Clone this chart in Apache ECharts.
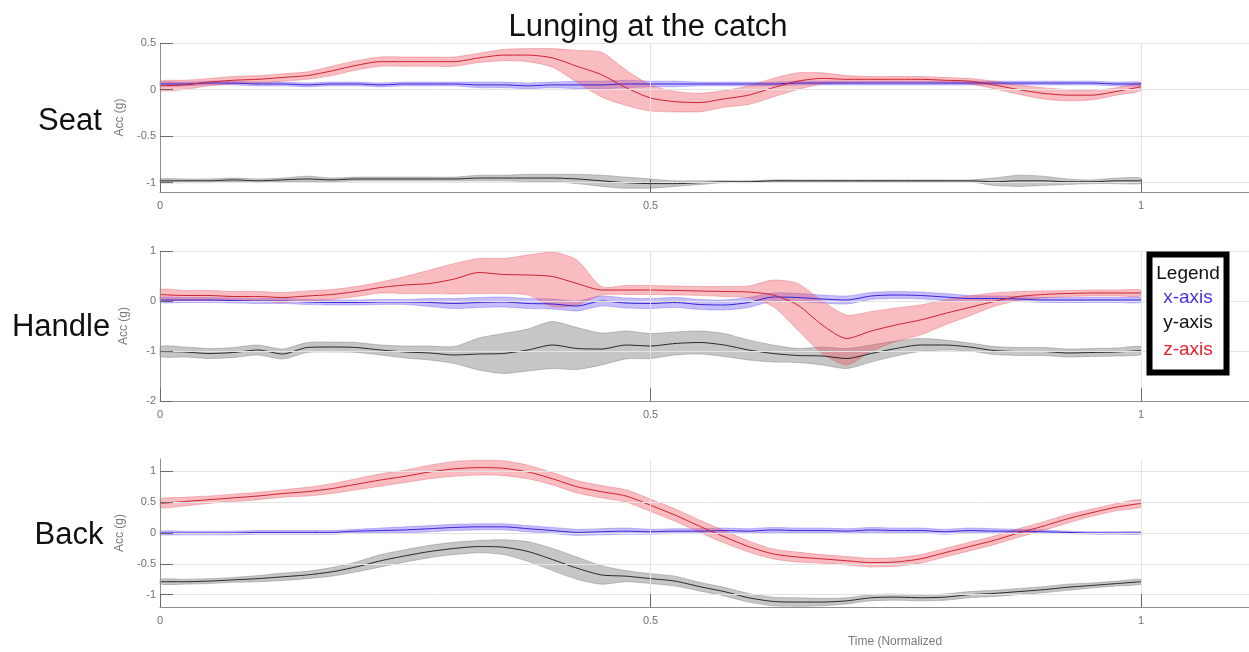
<!DOCTYPE html>
<html><head><meta charset="utf-8">
<script src="https://cdn.jsdelivr.net/npm/echarts@6/dist/echarts.min.js"></script>
<style>html,body{margin:0;padding:0;background:#fff}#c{width:1249px;height:652px}</style>
</head><body><div id="c"></div>
<script>
// Normalized time samples
const t = [0,0.025,0.05,0.075,0.1,0.125,0.15,0.175,0.2,0.225,0.25,0.275,0.3,0.325,0.35,0.375,0.4,0.425,0.45,0.475,0.5,0.525,0.55,0.575,0.6,0.625,0.65,0.675,0.7,0.725,0.75,0.775,0.8,0.825,0.85,0.875,0.9,0.925,0.95,0.975,1];
const xTicks = [0, 0.5, 1];

// Seat
const seatTicks = [-1, -0.5, 0, 0.5];
const seatZ = [0.04,0.05,0.08,0.10,0.11,0.13,0.15,0.20,0.26,0.30, 0.30,0.30,0.30,0.34,0.37,0.37,0.34,0.25,0.16,0.02, -0.09,-0.13,-0.14,-0.10,-0.06,0.02,0.09,0.12,0.11,0.11, 0.11,0.11,0.10,0.09,0.05,0.00,-0.04,-0.06,-0.06,-0.02,0.03];
const seatZSpread = [0.05,0.05,0.04,0.04,0.04,0.04,0.04,0.05,0.05,0.05, 0.05,0.05,0.05,0.05,0.06,0.07,0.10,0.17,0.24,0.19, 0.14,0.11,0.10,0.09,0.10,0.10,0.09,0.06,0.04,0.03, 0.03,0.03,0.03,0.03,0.04,0.05,0.06,0.06,0.05,0.04,0.04];
const seatX = [0.06,0.06,0.07,0.07,0.06,0.06,0.05,0.06,0.06,0.05, 0.06,0.06,0.06,0.05,0.05,0.04,0.05,0.05,0.05,0.06, 0.06,0.06,0.06,0.06,0.06,0.06,0.07,0.07,0.07,0.07, 0.07,0.07,0.07,0.07,0.07,0.07,0.07,0.07,0.07,0.06,0.06];
const seatXSpread = [0.02,0.02,0.02,0.02,0.02,0.02,0.02,0.02,0.02,0.02, 0.02,0.02,0.02,0.03,0.03,0.03,0.03,0.04,0.04,0.04, 0.03,0.03,0.02,0.02,0.02,0.02,0.02,0.02,0.02,0.02, 0.02,0.02,0.02,0.02,0.02,0.02,0.02,0.02,0.02,0.02,0.02];
const seatY = [-0.98,-0.98,-0.98,-0.97,-0.98,-0.97,-0.96,-0.97,-0.96,-0.96, -0.96,-0.96,-0.96,-0.95,-0.95,-0.95,-0.95,-0.96,-0.98,-1.0, -1.01,-1.01,-1.0,-0.99,-0.99,-0.98,-0.98,-0.98,-0.98,-0.98, -0.98,-0.98,-0.98,-0.98,-0.99,-0.98,-0.98,-0.99,-0.99,-0.98,-0.98];
const seatYSpread = [0.02,0.02,0.02,0.02,0.02,0.02,0.03,0.02,0.02,0.02, 0.02,0.02,0.02,0.03,0.03,0.04,0.04,0.05,0.06,0.06, 0.05,0.03,0.02,0.01,0.01,0.01,0.01,0.01,0.01,0.01, 0.01,0.01,0.01,0.01,0.04,0.06,0.05,0.03,0.02,0.03,0.03];

// Handle
const handleTicks = [-2, -1, 0, 1];
const handleZ = [0.13,0.11,0.11,0.09,0.09,0.07,0.10,0.13,0.19,0.27, 0.32,0.35,0.44,0.57,0.53,0.52,0.49,0.35,0.22,0.22, 0.22,0.21,0.20,0.19,0.18,0.12,-0.08,-0.48,-0.75,-0.60, -0.48,-0.38,-0.25,-0.13,-0.01,0.09,0.13,0.15,0.16,0.16,0.16];
const handleZUp = [0.1,0.1,0.1,0.1,0.1,0.1,0.1,0.1,0.1,0.11, 0.17,0.27,0.31,0.28,0.32,0.4,0.49,0.47,0.07,0.09, 0.09,0.09,0.09,0.1,0.12,0.3,0.43,0.48,0.47,0.39, 0.34,0.3,0.27,0.23,0.17,0.1,0.07,0.06,0.06,0.06,0.06];
const handleZDown = [0.1,0.1,0.1,0.1,0.1,0.1,0.1,0.1,0.1,0.11, 0.17,0.2,0.3,0.42,0.38,0.4,0.6,0.43,0.1,0.09, 0.09,0.09,0.09,0.1,0.12,0.23,0.5,0.57,0.53,0.41, 0.33,0.3,0.23,0.17,0.1,0.08,0.07,0.06,0.06,0.06,0.06];
const handleX = [0.02,0.02,0.02,0.01,0.0,0.0,-0.02,-0.03,-0.03,-0.02, -0.02,-0.03,-0.05,-0.03,-0.02,-0.05,-0.06,-0.1,0.0,-0.04, -0.05,-0.03,-0.07,-0.08,-0.03,0.08,0.07,0.04,0.02,0.1, 0.12,0.11,0.08,0.05,0.05,0.04,0.02,0.02,0.02,0.02,0.02];
const handleXSpread = [0.05,0.05,0.05,0.05,0.05,0.05,0.05,0.05,0.05,0.05, 0.05,0.08,0.1,0.1,0.1,0.1,0.1,0.1,0.1,0.1, 0.1,0.1,0.1,0.1,0.1,0.08,0.08,0.08,0.08,0.07, 0.07,0.07,0.07,0.06,0.05,0.05,0.05,0.05,0.05,0.05,0.05];
const handleY = [-1.01,-1.02,-1.05,-1.03,-0.98,-1.06,-0.93,-0.92,-0.93,-0.98, -1.02,-1.04,-1.08,-1.06,-1.05,-0.98,-0.88,-0.95,-0.96,-0.88, -0.9,-0.85,-0.83,-0.88,-0.98,-1.05,-1.09,-1.1,-1.15,-1.05, -0.95,-0.88,-0.88,-0.92,-0.99,-1.01,-1.01,-1.04,-1.03,-1.02,-0.99];
const handleYSpread = [0.1,0.1,0.1,0.1,0.1,0.1,0.1,0.1,0.1,0.1, 0.12,0.14,0.17,0.32,0.4,0.42,0.47,0.42,0.32,0.28, 0.25,0.23,0.23,0.23,0.2,0.17,0.14,0.18,0.2,0.17, 0.15,0.13,0.1,0.08,0.08,0.08,0.08,0.08,0.08,0.08,0.08];

// Back
const backTicks = [-1, -0.5, 0, 0.5, 1];
const backZ = [0.48,0.51,0.54,0.57,0.6,0.64,0.67,0.72,0.79,0.86, 0.92,0.99,1.04,1.06,1.05,0.99,0.88,0.75,0.67,0.6, 0.45,0.29,0.11,-0.06,-0.22,-0.34,-0.39,-0.42,-0.45,-0.48, -0.47,-0.42,-0.32,-0.22,-0.12,0.0,0.11,0.23,0.33,0.42,0.48];
const backZSpread = [0.07,0.07,0.06,0.06,0.06,0.06,0.07,0.08,0.09,0.1, 0.1,0.11,0.12,0.12,0.12,0.11,0.1,0.1,0.1,0.1, 0.1,0.1,0.1,0.1,0.09,0.08,0.08,0.07,0.07,0.07, 0.07,0.07,0.07,0.07,0.07,0.07,0.07,0.07,0.06,0.06,0.06];
const backX = [0.0,0.0,0.0,0.0,0.01,0.01,0.01,0.01,0.03,0.04, 0.05,0.07,0.09,0.1,0.1,0.07,0.04,0.01,0.02,0.03, 0.02,0.03,0.03,0.04,0.03,0.05,0.04,0.04,0.03,0.05, 0.04,0.04,0.02,0.04,0.03,0.03,0.02,0.01,0.0,0.0,0.0];
const backXSpread = [0.03,0.03,0.03,0.03,0.03,0.03,0.03,0.03,0.03,0.04, 0.05,0.05,0.05,0.05,0.05,0.05,0.05,0.05,0.05,0.05, 0.04,0.04,0.04,0.04,0.04,0.04,0.04,0.04,0.04,0.04, 0.04,0.04,0.04,0.04,0.04,0.03,0.03,0.02,0.02,0.02,0.02];
const backY = [-0.79,-0.79,-0.78,-0.76,-0.74,-0.71,-0.68,-0.63,-0.55,-0.45, -0.37,-0.3,-0.25,-0.22,-0.23,-0.3,-0.43,-0.57,-0.68,-0.7, -0.74,-0.78,-0.87,-0.95,-1.05,-1.11,-1.12,-1.12,-1.1,-1.05, -1.04,-1.05,-1.04,-1.0,-0.98,-0.95,-0.92,-0.88,-0.85,-0.82,-0.79];
const backYSpread = [0.04,0.04,0.04,0.04,0.05,0.06,0.06,0.07,0.08,0.1, 0.1,0.1,0.1,0.1,0.12,0.16,0.18,0.18,0.15,0.09, 0.08,0.08,0.07,0.07,0.07,0.07,0.07,0.06,0.05,0.05, 0.05,0.05,0.05,0.05,0.05,0.05,0.05,0.05,0.04,0.04,0.04];

const rowLabels = ['Seat', 'Handle', 'Back'];
const titleText = 'Lunging at the catch';
const legendTitle = 'Legend';
const legendItems = ['x-axis', 'y-axis', 'z-axis'];
const yName = 'Acc (g)';
const xName = 'Time (Normalized';

const FONT = '"Liberation Sans", Arial, Helvetica, sans-serif';
const COLORS = {
  x: {line: '#3420d8', fill: 'rgba(105,85,245,0.38)', edge: 'rgba(90,70,235,0.4)', text: '#4a32e6'},
  y: {line: '#262626', fill: 'rgba(120,120,120,0.42)', edge: 'rgba(90,90,90,0.4)', text: '#111'},
  z: {line: '#cc1f2e', fill: 'rgba(240,80,92,0.38)', edge: 'rgba(225,70,85,0.4)', text: '#e2222f'}
};

const panels = [
  {top: 43, height: 149, min: -1.1, max: 0.5, ticks: seatTicks,
   sig: [{k:'y', m: seatY, up: seatYSpread, dn: seatYSpread},
         {k:'x', m: seatX, up: seatXSpread, dn: seatXSpread},
         {k:'z', m: seatZ, up: seatZSpread, dn: seatZSpread}]},
  {top: 251, height: 150, min: -2, max: 1, ticks: handleTicks,
   sig: [{k:'y', m: handleY, up: handleYSpread, dn: handleYSpread},
         {k:'x', m: handleX, up: handleXSpread, dn: handleXSpread},
         {k:'z', m: handleZ, up: handleZUp, dn: handleZDown}]},
  {top: 459, height: 148, min: -1.2, max: 1.2, ticks: backTicks,
   sig: [{k:'y', m: backY, up: backYSpread, dn: backYSpread},
         {k:'x', m: backX, up: backXSpread, dn: backXSpread},
         {k:'z', m: backZ, up: backZSpread, dn: backZSpread}]}
];

const grid = [], xAxis = [], yAxis = [], series = [];
panels.forEach((p, g) => {
  grid.push({left: 160, right: 0, top: p.top, height: p.height, containLabel: false});
  xAxis.push({
    gridIndex: g, type: 'value', min: 0, max: 1.11, z: 10,
    axisLine: {show: true, onZero: false, lineStyle: {color: '#8f8f8f', width: 1}},
    axisTick: {show: true, inside: true, length: 13, customValues: xTicks, lineStyle: {color: '#6a6a6a'}},
    axisLabel: {customValues: xTicks, color: '#707070', fontSize: 11, fontFamily: FONT, margin: 8},
    splitLine: {show: false}
  });
  yAxis.push({
    gridIndex: g, type: 'value', min: p.min, max: p.max, z: 10,
    name: yName, nameLocation: 'middle', nameGap: 30, nameRotate: 90,
    nameTextStyle: {color: '#7a7a7a', fontSize: 12, fontFamily: FONT},
    axisLine: {show: true, onZero: false, lineStyle: {color: '#8f8f8f', width: 1}},
    axisTick: {show: true, inside: true, length: 13, customValues: p.ticks, lineStyle: {color: '#6a6a6a'}},
    axisLabel: {customValues: p.ticks, color: '#707070', fontSize: 11, fontFamily: FONT, margin: 4},
    splitLine: {show: false}
  });
  // grid lines carrier
  series.push({
    type: 'line', xAxisIndex: g, yAxisIndex: g, data: [], z: 1, silent: true,
    markLine: {
      silent: true, symbol: 'none', animation: false, label: {show: false},
      lineStyle: {color: '#e4e4e4', width: 1, type: 'solid'},
      emphasis: {disabled: true},
      data: p.ticks.map(v => ({yAxis: v})).concat(xTicks.filter(v => v > 0).map(v => ({xAxis: v})))
    }
  });
  p.sig.forEach(s => {
    const c = COLORS[s.k];
    // shaded band (mean ± spread) as a polygon through the axes' scales
    series.push({
      type: 'custom', xAxisIndex: g, yAxisIndex: g, z: 2, silent: true,
      data: [[0, 0]], encode: {x: 0, y: 1},
      renderItem: (params, api) => {
        const upper = t.map((x, i) => api.coord([x, s.m[i] + s.up[i]]));
        const lower = t.map((x, i) => api.coord([x, s.m[i] - s.dn[i]])).reverse();
        const pts = upper.concat(lower);
        let x0 = Infinity, y0 = Infinity, x1 = -Infinity, y1 = -Infinity;
        pts.forEach(q => { x0 = Math.min(x0, q[0]); x1 = Math.max(x1, q[0]); y0 = Math.min(y0, q[1]); y1 = Math.max(y1, q[1]); });
        return {
          type: 'polygon',
          shape: {points: pts, smooth: 0.25, smoothConstraint: [[x0, y0], [x1, y1]]},
          style: {fill: c.fill, stroke: c.edge, lineWidth: 0.8}
        };
      }
    });
    series.push({
      type: 'line', xAxisIndex: g, yAxisIndex: g,
      symbol: 'none', smooth: 0.25, z: 3, silent: true,
      lineStyle: {color: c.line, width: 1},
      data: t.map((x, i) => [x, s.m[i]])
    });
  });
});

const rowLabelPos = [[70, 121], [61, 327], [69, 535]];
const graphic = [
  {type: 'text', x: 648, y: 27, style: {text: titleText, font: '31px ' + FONT, fill: '#111', textAlign: 'center', textVerticalAlign: 'middle'}},
  {type: 'text', x: 895, y: 642, style: {text: xName, font: '12px ' + FONT, fill: '#7a7a7a', textAlign: 'center', textVerticalAlign: 'middle'}},
  {type: 'rect', shape: {x: 1149.5, y: 254.5, width: 77, height: 118}, style: {fill: '#fff', stroke: '#000', lineWidth: 6}, z: 20},
  {type: 'text', x: 1188, y: 274, z: 21, style: {text: legendTitle, font: '19px ' + FONT, fill: '#111', textAlign: 'center', textVerticalAlign: 'middle'}}
];
rowLabels.forEach((lab, i) => {
  graphic.push({type: 'text', x: rowLabelPos[i][0], y: rowLabelPos[i][1],
    style: {text: lab, font: '31px ' + FONT, fill: '#111', textAlign: 'center', textVerticalAlign: 'middle'}});
});
const legendKeys = ['x', 'y', 'z'];
const legendY = [298, 323, 350];
legendItems.forEach((lab, i) => {
  graphic.push({type: 'text', x: 1188, y: legendY[i], z: 21,
    style: {text: lab, font: '19px ' + FONT, fill: COLORS[legendKeys[i]].text, textAlign: 'center', textVerticalAlign: 'middle'}});
});

const chart = echarts.init(document.getElementById('c'), null, {renderer: 'canvas', width: 1249, height: 652});
chart.setOption({
  animation: false,
  backgroundColor: '#fff',
  grid, xAxis, yAxis, series, graphic
});
</script></body></html>
